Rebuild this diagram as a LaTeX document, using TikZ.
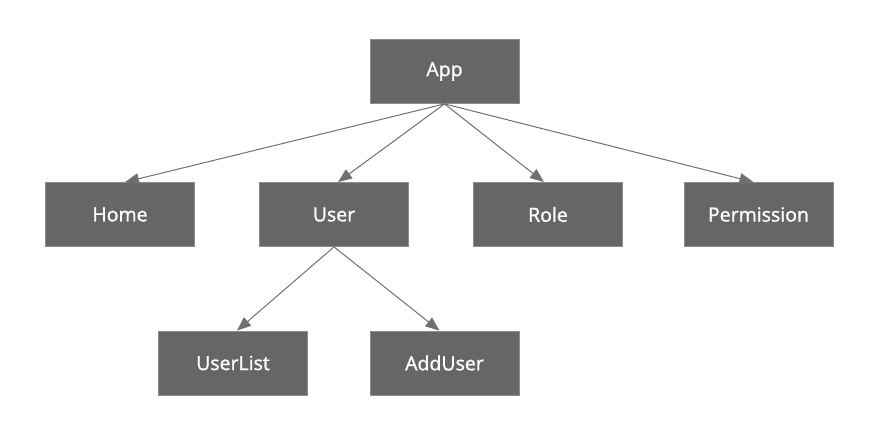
\documentclass[tikz,border=0pt]{standalone}
\usepackage{fontspec}
\setmainfont{Open Sans}
\newfontfamily\labelfont[FakeBold=1.2]{Open Sans}
\usetikzlibrary{arrows.meta}
\definecolor{boxfill}{HTML}{666666}
\definecolor{boxline}{HTML}{8C8C8C}
\definecolor{edgecol}{HTML}{707070}
\begin{document}
\begin{tikzpicture}[x=1pt,y=-1pt,
  box/.style={draw=boxline,line width=0.8pt,fill=boxfill,text=white,minimum width=149pt,minimum height=64pt,inner sep=0pt,font=\labelfont\fontsize{19.5}{22}\selectfont},
  link/.style={draw=edgecol,line width=1pt,-{Triangle[length=14pt,width=11pt]}}]
\useasboundingbox (0,0) rectangle (892,431);
\node[box] (app) at (444.5,71.5) {App};
\node[box] (home) at (120,214.5) {Home};
\node[box] (user) at (334,214.5) {User};
\node[box] (role) at (548,214.5) {Role};
\node[box] (perm) at (758.5,214.5) {Permission};
\node[box] (ulist) at (233,363) {UserList};
\node[box] (adduser) at (444.5,363) {AddUser};
\draw[link] (app.south) -- ([xshift=5pt]home.north);
\draw[link] (app.south) -- ([xshift=4pt]user.north);
\draw[link] (app.south) -- ([xshift=-4pt]role.north);
\draw[link] (app.south) -- ([xshift=-5pt]perm.north);
\draw[link] (user.south) -- ([xshift=4pt]ulist.north);
\draw[link] (user.south) -- ([xshift=-5pt]adduser.north);
\end{tikzpicture}
\end{document}
